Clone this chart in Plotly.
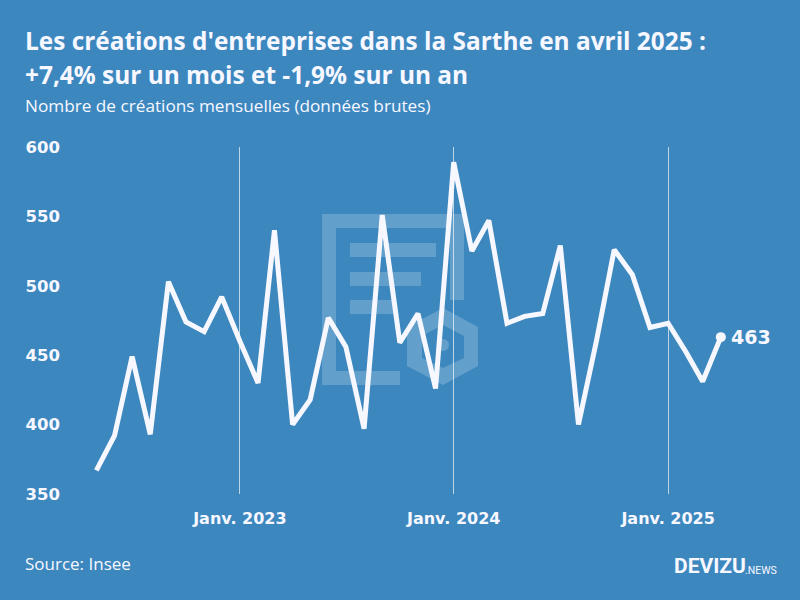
import plotly.graph_objects as go

months = [
    "2022-05-01", "2022-06-01", "2022-07-01", "2022-08-01", "2022-09-01", "2022-10-01",
    "2022-11-01", "2022-12-01", "2023-01-01", "2023-02-01", "2023-03-01", "2023-04-01",
    "2023-05-01", "2023-06-01", "2023-07-01", "2023-08-01", "2023-09-01", "2023-10-01",
    "2023-11-01", "2023-12-01", "2024-01-01", "2024-02-01", "2024-03-01", "2024-04-01",
    "2024-05-01", "2024-06-01", "2024-07-01", "2024-08-01", "2024-09-01", "2024-10-01",
    "2024-11-01", "2024-12-01", "2025-01-01", "2025-02-01", "2025-03-01", "2025-04-01",
]
creations = [
    367, 392, 449, 393, 503, 474, 467, 492, 460, 430, 540, 400,
    418, 477, 456, 397, 551, 459, 480, 426, 589, 525, 547, 473,
    478, 480, 529, 400, 461, 526, 508, 470, 473, 452, 431, 463,
]
y_ticks = [350, 400, 450, 500, 550, 600]
x_ticks = ["2023-01-01", "2024-01-01", "2025-01-01"]
x_labels = ["Janv. 2023", "Janv. 2024", "Janv. 2025"]

BG = "#3D87BF"
WHITE = "#F7F8FF"
FAINT = "rgba(255,255,255,0.2)"
FONT = "Open Sans"
TICK_FONT = "DejaVu Sans"
W, H = 800, 600
L, R, T, B = 70, 20, 147, 106


# paper coordinates run over the plot area, so convert from page pixels
def px(x):
    return (x - L) / (W - L - R)


def py(y):
    return 1 - (y - T) / (H - T - B)


def note(x, y, text, size, bold=False, color=WHITE, family=FONT):
    # x,y = left edge and vertical middle of the text, in page pixels
    return dict(
        x=px(x), y=py(y), xref="paper", yref="paper",
        text=f"<b>{text}</b>" if bold else text,
        showarrow=False, xanchor="left", yanchor="middle", xshift=-2,
        font=dict(size=size, color=color, family=family),
    )


def rect(x0, y0, x1, y1):
    return dict(
        type="rect", xref="paper", yref="paper", layer="below",
        x0=px(x0), x1=px(x1), y0=py(y0), y1=py(y1),
        fillcolor=FAINT, line_width=0,
    )


def poly(points):
    return "M" + " L".join(f"{px(x):.5f},{py(y):.5f}" for x, y in points) + " Z"


# watermark logo behind the line
logo = [
    rect(322, 214, 336, 385), rect(336, 214, 464, 228), rect(450, 228, 464, 300),
    rect(336, 371, 400, 385), rect(350, 243, 436, 257), rect(350, 272, 421, 286),
    rect(350, 300, 393, 314),
    dict(
        type="path", xref="paper", yref="paper", layer="below", line_width=0,
        fillcolor=FAINT, fillrule="evenodd",
        path=poly([(443, 308), (478, 327), (478, 366), (443, 385), (407, 366), (407, 327)])
        + " " + poly([(443, 325), (464, 336), (464, 358), (443, 368), (422, 358), (422, 336)]),
    ),
    dict(
        type="circle", xref="paper", yref="paper", layer="below", line_width=0,
        fillcolor=FAINT, x0=px(437), x1=px(449), y0=py(351), y1=py(339),
    ),
]

fig = go.Figure()
fig.add_trace(go.Scatter(
    x=months, y=creations, mode="lines",
    line=dict(color=WHITE, width=5), showlegend=False, hoverinfo="x+y",
))
fig.add_trace(go.Scatter(
    x=months[-1:], y=creations[-1:], mode="markers",
    marker=dict(color=WHITE, size=10), showlegend=False, hoverinfo="x+y",
))

annotations = [
    note(25, 41, "Les créations d'entreprises dans la Sarthe en avril 2025 :", 24.4, True),
    note(25, 75, "+7,4% sur un mois et -1,9% sur un an", 24.4, True),
    note(25, 105, "Nombre de créations mensuelles (données brutes)", 17.2),
    note(25, 563, "Source: Insee", 17),
    note(674, 566, "DEVIZU", 21, True, family="Roboto"),
    note(745, 570, ".NEWS", 10.5, family="Roboto"),
    dict(
        x=months[-1], y=creations[-1], xref="x", yref="y", text=f"<b>{creations[-1]}</b>",
        showarrow=False, xanchor="left", yanchor="middle", xshift=8,
        font=dict(size=19, color=WHITE, family=TICK_FONT),
    ),
]

fig.update_layout(
    width=W, height=H,
    paper_bgcolor=BG, plot_bgcolor=BG,
    margin=dict(l=L, r=R, t=T, b=B),
    font=dict(family=FONT, color=WHITE),
    shapes=logo,
    annotations=annotations,
    showlegend=False,
)
fig.update_xaxes(
    type="date", range=["2022-03-17", "2025-07-11"],
    tickmode="array", tickvals=x_ticks, ticktext=[f"<b>{t}</b>" for t in x_labels],
    tickfont=dict(size=16, color=WHITE, family=TICK_FONT),
    showgrid=True, gridcolor="rgba(255,255,255,0.65)", gridwidth=1.2,
    zeroline=False, showline=False, ticks="", ticklabelstandoff=13,
)
fig.update_yaxes(
    range=[350, 600],
    tickmode="array", tickvals=y_ticks, ticktext=[f"<b>{t}</b>" for t in y_ticks],
    tickfont=dict(size=16.5, color=WHITE, family=TICK_FONT),
    showgrid=False, zeroline=False, showline=False, ticks="", ticklabelstandoff=9,
)

fig.write_html(
    "out.html",
    config=dict(displayModeBar=False),
    post_script="document.body.style.margin='0';document.body.style.background='%s';" % BG,
)
